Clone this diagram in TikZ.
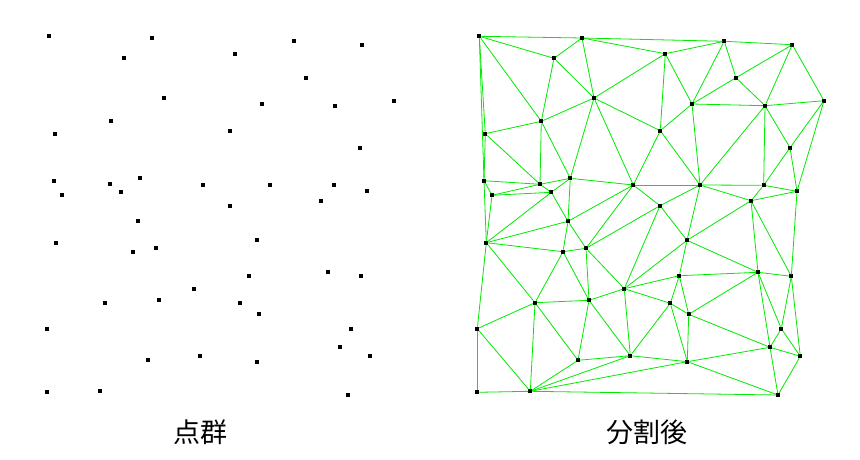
\documentclass[tikz,border=0pt]{standalone}
\usepackage{fontspec}
\newfontfamily\cjk{Noto Sans CJK JP}
\begin{document}
\begin{tikzpicture}[x=1pt,y=1pt,
  dot/.style={fill=black,draw=none,rectangle,minimum size=4pt,inner sep=0pt,outer sep=0pt},
  edge/.style={draw={rgb,255:red,0;green,235;blue,0},line width=0.8pt},
  lab/.style={font=\cjk\fontsize{27}{30}\selectfont,inner sep=0pt}]
\fill[white] (0,0) rectangle (860,-460);
\useasboundingbox (0,0) rectangle (860,-460);
\foreach \x/\y [count=\i] in {
 49.3/36.3, 152/38, 124/58.3, 164/98, 111.3/121.3, 55.3/133.7, 54/180.7, 140.3/178.3,
 110/184.3, 121.3/192.3, 62/195.3, 138/221.3, 56.3/242.7, 156/248.3, 133/251.7, 159/300.3,
 105/302.7, 47.3/328.7, 148/360.3, 47.3/392.3, 100.3/391.3, 235.3/53.7, 262/104, 230.3/130.7,
 203.3/185, 270/185, 230/205.7, 257/240.3, 249.3/275.7, 194.3/288.7, 240.3/303.3, 258.7/314.3,
 200.3/355.7, 257.3/361.7, 294.3/41.3, 362.3/44.7, 306/77.7, 394/100.7, 335/105.7, 360/147.7,
 333.7/185.3, 367/191.3, 321/200.7, 328/272.3, 361.3/276.3, 351.3/328.7, 340/347.3, 370.3/356.3,
 348/395}
{
  \node[dot] (l\i) at (\x,-\y) {};
  \node[dot] (r\i) at (\x+430,-\y) {};
}
\foreach \a/\b in {
 1/2, 2/35, 35/36, 36/38, 1/6, 1/7, 6/7, 7/13, 13/18, 18/20, 20/21, 21/49, 48/49, 45/48, 42/45, 38/42,
 1/3, 1/5, 2/3, 2/4, 2/22, 3/4, 3/5, 4/5, 4/8, 4/22,
 4/24, 4/25, 5/6, 5/8, 5/9, 6/9, 7/9, 7/11, 9/11, 9/10,
 10/11, 8/9, 8/10, 8/12, 8/25, 10/12, 10/13, 11/13, 12/13, 12/15,
 12/14, 12/25, 13/15, 13/17, 14/15, 14/16, 14/25, 14/27, 14/30, 15/16,
 15/17, 16/17, 16/19, 16/30, 16/33, 17/18, 17/19, 17/21, 18/21, 19/21,
 19/33, 21/33, 21/34, 22/23, 22/24, 22/35, 23/24, 23/26, 23/35, 23/37,
 23/39, 24/25, 24/26, 25/26, 25/27, 26/27, 26/28, 26/39, 26/41, 26/43,
 27/28, 27/30, 28/29, 28/30, 28/43, 28/44, 29/30, 29/31, 29/32, 29/44,
 30/31, 30/33, 31/32, 31/33, 31/34, 32/34, 32/44, 32/47, 33/34, 34/47,
 34/49, 35/37, 36/37, 36/39, 37/39, 38/39, 38/40, 39/40, 39/41, 40/41,
 40/42, 41/42, 41/43, 42/43, 43/44, 43/45, 44/45, 44/46, 44/47, 45/46,
 46/47, 46/48, 47/48, 47/49}
{
  \draw[edge] (r\a) -- (r\b);
}
\node[lab] (labL) at (200,-432) {点群};
\node[lab] (labR) at (647,-432) {分割後};
\end{tikzpicture}
\end{document}
